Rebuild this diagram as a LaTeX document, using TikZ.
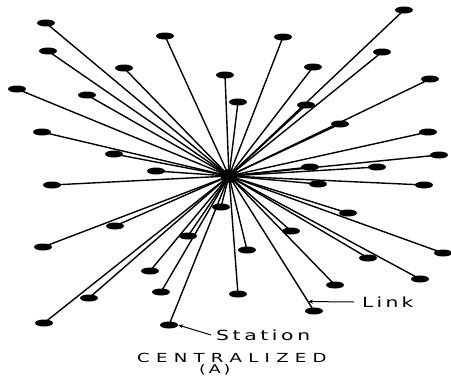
\documentclass[tikz,border=0pt]{standalone}
\usepackage{fontspec}
\usepackage{graphicx}
\usetikzlibrary{shapes.geometric,arrows.meta,calc}
\newfontfamily\lblfont{DejaVu Sans}
\def\lspaced#1#2{\def\lsk{#1}\lspacedi#2\relax}
\def\lspacedi#1{\ifx\relax#1\else#1\kern\lsk\expandafter\lspacedi\fi}
\tikzset{
  station/.style={ellipse,fill=black,inner sep=0pt,minimum width=18pt,minimum height=7pt},
  hubnode/.style={ellipse,fill=black,inner sep=0pt,minimum width=17pt,minimum height=14pt},
  link/.style={line width=1.4pt,black},
  leader/.style={line width=1pt,-{Stealth[length=5pt,width=4pt]}},
  lbl/.style={font=\lblfont\fontsize{14}{16}\selectfont,inner sep=0pt},
  titlelbl/.style={font=\lblfont\fontsize{12.5}{14}\selectfont,inner sep=0pt}
}
\begin{document}
\begin{tikzpicture}[x=1pt,y=-1pt]
\useasboundingbox (0,0) rectangle (451,378);
\fill[white] (0,0) rectangle (451,378);
\node[hubnode] (hub) at (229,176) {};
\foreach \n/\x/\y in {
 1/46/23, 2/48/51, 3/124/68, 4/165/36, 5/225/75, 6/17/89, 7/87/95, 8/238/102,
 9/283/37, 10/404/10, 11/382/52, 12/313/67, 13/430/79, 14/306/105, 15/340/124,
 16/428/132, 17/439/155, 18/310/167, 19/377/167, 20/42/132, 21/114/154, 22/156/171,
 23/52/185, 24/115/226, 25/43/247, 26/221/207, 27/188/236, 28/150/271, 29/161/292,
 30/89/298, 31/44/323, 32/169/325, 33/318/184, 34/424/185, 35/348/213, 36/443/253,
 37/291/231, 38/247/250, 39/368/258, 40/335/285, 41/420/279, 42/238/294, 43/314/311}
{
  \node[station] (s\n) at (\x,\y) {};
  \draw[link] (hub.center) -- (s\n.center);
}
\coordinate (linktip) at ($(hub.center)!0.93!(s43.center)$);
\node[lbl,anchor=west,inner xsep=8pt] (linklbl) at (354,302) {\scalebox{1.45}[1]{\lspaced{2.2pt}{Link}}};
\draw[leader] (linklbl.west) -- (linktip);
\node[lbl,anchor=west,inner xsep=5pt] (stlbl) at (211,335) {\scalebox{1.45}[1]{\lspaced{2.5pt}{Station}}};
\draw[leader] (stlbl.west) -- (s32.east);
\node[titlelbl,anchor=west] (title) at (137,357.5) {\scalebox{1.45}[1]{\lspaced{4.3pt}{CENTRALIZED}}};
\node[titlelbl,anchor=west,font=\lblfont\fontsize{12}{13}\selectfont] (sub) at (199,369.5) {\scalebox{1.45}[1]{\lspaced{2pt}{(A)}}};
\end{tikzpicture}
\end{document}
